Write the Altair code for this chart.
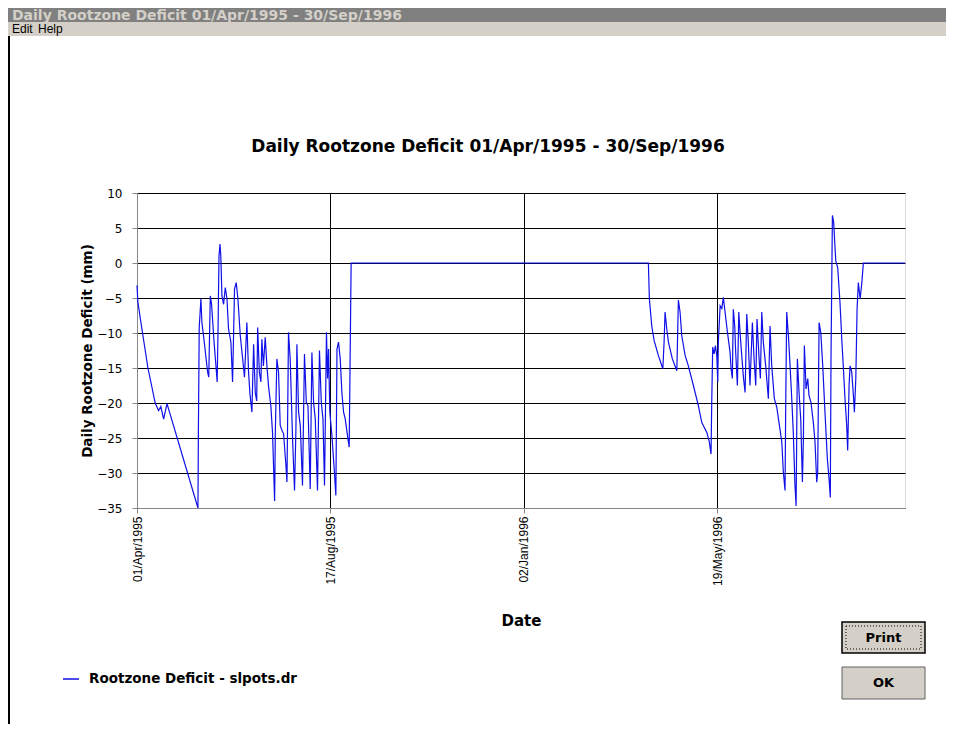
import altair as alt
import pandas as pd

# ---------------- data ----------------
start_date = "1995-04-01"
end_date = "1996-09-30"
series_name = "Rootzone Deficit - slpots.dr"

# days since 01/Apr/1995 and deficit (mm) at each drawn vertex
day_offsets = [
    0, 0.6, 2.4, 7.8, 13, 15.4, 17, 19, 21.4, 43.5, 43.8, 44.4, 45.6, 46.3, 47.6,
    50.4, 51.2, 52.3, 53.2, 55, 56.6, 57.2, 57.9, 58.5, 59.2, 59.8, 60.6, 61.8, 63,
    64.2, 65.3, 67, 68.2, 69.6, 70.8, 72, 73.7, 75.3, 76.7, 78.4, 79.6, 80.6, 82,
    83.2, 84.4, 85.4, 86.1, 87.3, 88.4, 89.1, 90.2, 91.5, 92.7, 93.9, 95.5, 96.7,
    98.2, 98.7, 99.8, 101, 102.2, 103.4, 104.6, 106.3, 107, 107.6, 108.1, 109.3,
    111, 112.4, 113.4, 114.1, 115.3, 116.5, 118.1, 119.5, 120.8, 122, 123.6, 124.8,
    126, 127.2, 128.8, 130.2, 131.5, 132.7, 133.8, 135.2, 136, 136.7, 137.6, 139.1,
    140.7, 141.9, 142.7, 143.8, 145, 146.2, 147.4, 148.6, 150.5, 151.4, 152.1, 152.8,
    364.9, 365.6, 367.3, 369, 372, 375.2, 376.1, 376.8, 378, 379.2, 382, 385.2,
    386.3, 387.5, 388.7, 391.1, 393.4, 397, 400.6, 403, 406.6, 408.4, 409.6, 410.1,
    410.8, 411.8, 412.7, 413.7, 414.4, 414.8, 416.1, 417.3, 418.4, 419.6, 421.3,
    423.2, 423.9, 424.8, 425.5, 426.5, 427.2, 428.4, 429.4, 430.3, 431.5, 432.7,
    433.9, 435.1, 436.2, 437.4, 439.1, 440.3, 441.5, 442.4, 443.9, 444.8, 445.8,
    446.9, 448.6, 450.5, 451.7, 452.9, 454.8, 456.5, 458.1, 460.1, 461.2, 462.4,
    462.9, 463.6, 464.8, 466, 467.2, 468.3, 469.5, 470.3, 471.2, 472.4, 473.6,
    474.8, 475.5, 476.2, 477.4, 478.6, 479.5, 480.9, 482.6, 483.8, 485, 485.7,
    486.7, 487.9, 489.3, 490.9, 492.6, 493.8, 494.7, 495.2, 496.2, 497.1, 498.6,
    500, 501.6, 502.9, 504, 505.2, 506.4, 507.1, 508.1, 508.8, 510, 511.2, 511.9,
    512.9, 513.8, 514.7, 516, 517.2, 518.3, 548,
]
deficit_mm = [
    -3.2, -5.5, -8, -15, -20, -21.1, -20.5, -22.3, -20.1, -35, -24.2, -9.2, -5.1, -8.5, -10.6,
    -15.6, -16.3, -4.7, -5.9, -11.3, -15.4, -17, -8.5, 1.0, 2.7, 1.0, -4.7, -5.9, -3.5,
    -5.1, -9.4, -11.3, -17, -3.7, -2.8, -5.1, -10.4, -13.5, -16.3, -8.5, -15.6, -18.7, -21.3,
    -11.6, -18.5, -19.7, -9.2, -15.6, -17, -10.9, -14.7, -10.6, -14.7, -17.7, -20.4, -24.2,
    -34, -24.2, -13.7, -15.6, -23.2, -23.9, -24.4, -29, -31.3, -19.9, -9.9, -13.7,
    -25.1, -32.5, -23.7, -11.6, -21.3, -23.2, -31.8, -13, -19.9, -20.4, -32.3, -12.8,
    -19.9, -22.3, -32.5, -12.5, -19.9, -22.3, -31.8, -9.9, -16.5, -12.3, -21.3, -24.7,
    -29.4, -33.2, -12.3, -11.3, -13.7, -18.5, -21.3, -22.3, -25.1, -26.3, -13.2, 0,
    0, -5.1, -9, -11.1, -13.2, -15.1, -11.3, -7, -9.4, -11.3, -13.7, -15.4,
    -5.3, -7, -10.4, -13.2, -14.7, -17.5, -20.4, -22.8, -24.2, -25.6, -27.3, -19.9,
    -12, -13, -11.8, -13.2, -17, -11.3, -6.1, -6.5, -4.9, -7, -9.9,
    -12.8, -15.1, -16.5, -6.6, -9, -12.8, -17.5, -7, -9.9, -13.2, -16.3,
    -18.5, -7.3, -11.3, -17.5, -8.5, -13.7, -17.5, -8, -13.7, -16.5, -7,
    -11.3, -14.7, -19.4, -9, -14.7, -19.4, -20.6, -22.8, -25.6, -29.9, -32.5,
    -19.9, -7, -10.4, -14.7, -19.4, -24.2, -31.8, -34.7, -13.7, -18.5, -22.3,
    -31.3, -25.1, -11.8, -18, -16.5, -18.9, -19.9, -22.8, -25.6, -31.3, -29.9,
    -8.5, -9.9, -14.7, -21.3, -28, -30.8, -33.5, -13.7, 6.8, 5.8, 0.3,
    -0.7, -5.6, -10.9, -14.9, -19.4, -23.2, -26.8, -17.5, -14.7, -15.6, -19, -21.3,
    -16.5, -6.6, -2.8, -5.1, -2.8, 0, 0,
]

x_tick_dates = [(1995, 4, 1), (1995, 8, 17), (1996, 1, 2), (1996, 5, 19)]
y_ticks = [10, 5, 0, -5, -10, -15, -20, -25, -30, -35]

chart_title = "Daily Rootzone Deficit 01/Apr/1995 - 30/Sep/1996"
y_title = "Daily Rootzone Deficit (mm)"
x_title = "Date"
window_title = "Daily Rootzone Deficit 01/Apr/1995 - 30/Sep/1996"

# ---------------- table ----------------
dates = pd.Timestamp(start_date) + pd.to_timedelta(day_offsets, unit="D")
df = pd.DataFrame({
    "date": dates.strftime("%Y-%m-%dT%H:%M:%S"),
    "deficit": deficit_mm,
    "series": series_name,
})

FONT = "Liberation Sans"
WIDE = "DejaVu Sans"

x_enc = alt.X(
    "date:T",
    scale=alt.Scale(domain=[alt.DateTime(year=1995, month=4, date=1),
                            alt.DateTime(year=1996, month=9, date=30)]),
    axis=alt.Axis(
        values=[alt.DateTime(year=y, month=m, date=d) for (y, m, d) in x_tick_dates],
        format="%d/%b/%Y", labelAngle=270, labelAlign="right", labelBaseline="middle",
        labelFont=FONT, labelFontSize=12, tickSize=5, labelPadding=3, title=x_title,
        titleFont=WIDE, titleFontSize=15, titleFontWeight="bold", titleX=384, titleY=112,
        titleBaseline="middle", labelFlush=False, labelOverlap=False,
        grid=True, gridColor="#000000", gridOpacity=1, gridWidth=1,
    ),
)
y_enc = alt.Y(
    "deficit:Q",
    scale=alt.Scale(domain=[-35, 10], nice=False, zero=False),
    axis=alt.Axis(
        values=y_ticks, labelFont=WIDE, labelFontSize=12, tickSize=5, labelPadding=10,
        title=y_title, titleFont=WIDE, titleFontSize=13.5, titleFontWeight="bold",
        titleAngle=270, titleX=-50, titleY=157.5, titleAlign="center",
        titleBaseline="middle",
        grid=True, gridColor="#000000", gridOpacity=1, gridWidth=1,
    ),
)

line = alt.Chart(df).mark_line(strokeWidth=1.2, interpolate="linear").encode(
    x=x_enc,
    y=y_enc,
    color=alt.Color(
        "series:N",
        scale=alt.Scale(range=["#1010e8"]),
        legend=alt.Legend(
            title=None, orient="none", legendX=-75, legendY=477,
            symbolType="stroke", symbolSize=256, symbolStrokeWidth=1.5,
            labelFont=WIDE, labelFontSize=13.5, labelFontWeight="bold",
            labelColor="black", labelOffset=9, padding=0, labelLimit=0,
        ),
    ),
)

one = pd.DataFrame({"k": [0]})

def box(x, x2, y, y2, fill, stroke=None, sw=0, dash=None):
    kw = dict(fill=fill, strokeWidth=sw)
    if stroke:
        kw["stroke"] = stroke
    if dash:
        kw["strokeDash"] = dash
    return alt.Chart(one).mark_rect(**kw).encode(
        x=alt.value(x), x2=alt.value(x2), y=alt.value(y), y2=alt.value(y2))

def label(txt, x, y, size, weight="normal", color="black", align="left", font=FONT):
    return alt.Chart(one).mark_text(
        text=txt, font=font, fontSize=size, fontWeight=weight, color=color,
        align=align, baseline="middle",
    ).encode(x=alt.value(x), y=alt.value(y))

# window chrome and title (page coords minus plot origin 137,193)
chrome = [
    box(-129, 809, -185, -171, "#808080"),
    label(window_title, -125, -177.5, 14, "bold", "#d4d0c8", font=WIDE),
    box(-129, 809, -171, -157, "#d4d0c8"),
    label("Edit", -125, -164, 12),
    label("Help", -99, -164, 12),
    box(-129, -127, -157, 531, "#000000"),
    box(705, 788, 429, 460, "#d4d0c8", "#000000", 1.5),
    box(709, 784, 433, 456, "#d4d0c8", "#000000", 1, [1, 2]),
    label("Print", 746.5, 444.5, 13, "bold", align="center", font=WIDE),
    box(705, 788, 474, 506, "#d4d0c8", "#606060", 1),
    label("OK", 746.5, 490, 13, "bold", align="center", font=WIDE),
    label(chart_title, 351, -46, 17, "bold", align="center", font=WIDE),
]

chart = alt.layer(*chrome, line).properties(
    width=768,
    height=315,
    padding={"left": 129, "top": 185, "right": 41, "bottom": 224},
    autosize=alt.AutoSizeParams(type="none"),
).configure_axis(
    domainColor="black", tickColor="black", labelColor="black", titleColor="black",
).configure_view(
    stroke="black", strokeWidth=1,
).configure(background="white")

chart.save("out.html", embed_options={"renderer": "svg", "actions": False})
